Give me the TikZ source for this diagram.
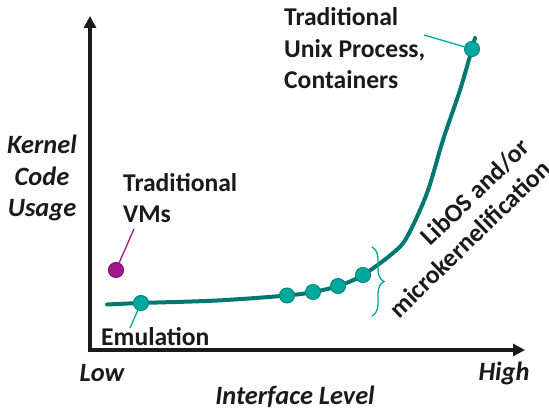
\documentclass[tikz,border=0pt]{standalone}
\usepackage{fontspec}
\setmainfont{Carlito}
\usetikzlibrary{arrows.meta,decorations.pathreplacing}
\definecolor{ink}{HTML}{1A1A1A}
\definecolor{curveteal}{HTML}{00786F}
\definecolor{dotteal}{HTML}{00A99D}
\definecolor{dotedge}{HTML}{00877D}
\definecolor{vmpurple}{HTML}{A3188C}
\definecolor{vmedge}{HTML}{7E1070}
\begin{document}
\begin{tikzpicture}[x=1pt,y=-1pt,
  axis/.style={draw=ink,line width=4pt,line join=miter,
    {Triangle[length=12pt,width=12pt]}-{Triangle[length=12pt,width=12pt]}},
  curve/.style={draw=curveteal,line width=4pt,line cap=round},
  dot/.style={circle,fill=dotteal,draw=dotedge,line width=1pt,minimum size=15pt,inner sep=0pt},
  vmdot/.style={circle,fill=vmpurple,draw=vmedge,line width=1pt,minimum size=15pt,inner sep=0pt},
  callout/.style={draw=dotteal,line width=1.3pt},
  vmcallout/.style={draw=vmpurple,line width=1.3pt},
  lbl/.style={text=ink,font=\fontsize{25.6}{31.5}\selectfont\bfseries,inner sep=0pt},
  axlbl/.style={text=ink,font=\fontsize{26.4}{31.5}\selectfont\bfseries\itshape,inner sep=0pt},
  bracestyle/.style={draw=dotteal,line width=1.3pt,decorate,
    decoration={brace,amplitude=12pt}}]
\useasboundingbox (0,0) rectangle (549,411);

% axes
\coordinate (ytip) at (90,16);
\coordinate (origin) at (90,350);
\coordinate (xtip) at (525,350);
\draw[axis] (ytip) -- (origin) -- (xtip);

% axis labels
\node[axlbl,align=center] (yl) at (42,178) {Kernel\\Code\\Usage};
\node[axlbl] (low) at (102,373) {Low};
\node[axlbl] (high) at (504,373) {High};
\node[axlbl] (xl) at (295,397) {Interface Level};

% cost curve
\draw[curve] plot[smooth,tension=0.55] coordinates {
  (107,304.5) (141,303) (217,300.5) (287,295.5) (313,292) (338,286) (363,275)
  (393,253) (407,237) (427,193) (443,140) (460,90) (472,49) (475,38)};

% points on the curve
\node[dot] (emu) at (141,303) {};
\node[dot] (p1) at (287,295.5) {};
\node[dot] (p2) at (313,292) {};
\node[dot] (p3) at (338,286) {};
\node[dot] (p4) at (363,275) {};
\node[dot] (unix) at (472,49) {};
\node[vmdot] (vm) at (116,270) {};

% callouts
\coordinate (emuend) at (130,328);
\coordinate (unixend) at (424,35);
\coordinate (vmend) at (134,229);
\draw[callout] (emuend) -- (emu);
\draw[callout] (unixend) -- (unix);
\draw[vmcallout] (vmend) -- (vm);

% brace over the libOS range
\coordinate (btop) at (372,247);
\coordinate (bbot) at (372,316);
\draw[bracestyle] (btop) -- (bbot);

% point labels
\node[lbl,align=left,anchor=west] (unixlbl) at (284,48.5) {Traditional\\Unix Process,\\Containers};
\node[lbl,align=left,anchor=west] (vmlbl) at (123,198) {Traditional\\VMs};
\node[lbl,anchor=west] (emulbl) at (101,337) {Emulation};
\node[lbl,font=\fontsize{25.6}{30}\selectfont\bfseries,align=right,rotate=44]
  (liblbl) at (459,228) {LibOS and/or\\microkernelification};
\end{tikzpicture}
\end{document}
